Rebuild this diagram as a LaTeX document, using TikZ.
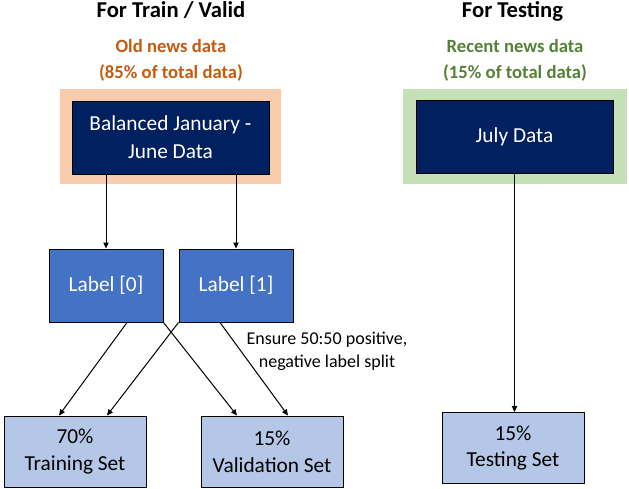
\documentclass[tikz,border=0pt]{standalone}
\usepackage{fontspec}
\setmainfont{Carlito}
\usetikzlibrary{
	calc,
	arrows.meta,
	positioning
}

\definecolor{navy}{HTML}{002060}
\definecolor{midblue}{HTML}{4472C4}
\definecolor{paleblue}{HTML}{B4C7E7}
\definecolor{oldfill}{HTML}{F8CBAD}
\definecolor{newfill}{HTML}{C5E0B4}
\definecolor{oldtext}{HTML}{C55A11}
\definecolor{newtext}{HTML}{548235}

\begin{document}
\begin{tikzpicture}[x=0.75pt,y=-0.75pt,->,>={Triangle[length=4.5pt,width=4pt]},
        line width=0.75pt,
        back node/.style={inner sep=0pt,minimum height=71.25pt},
        dark node/.style={draw=black,fill=navy,text=white,align=center,
          minimum width=147.75pt,minimum height=54.75pt,
          font=\fontsize{16}{21}\selectfont},
        label node/.style={draw=black,fill=midblue,text=white,
          minimum width=85.5pt,minimum height=54.75pt,
          font=\fontsize{16}{20}\selectfont},
        set node/.style={draw=black,fill=paleblue,align=center,
          minimum width=106.5pt,minimum height=53.25pt,
          font=\fontsize{16}{20}\selectfont},
        head/.style={anchor=base,font=\fontsize{17}{20}\selectfont\bfseries},
        sub/.style={anchor=base,align=center,font=\fontsize{14}{19}\selectfont\bfseries},
        note/.style={anchor=base,align=center,font=\fontsize{13.5}{17}\selectfont}]
        \useasboundingbox (0,0) rectangle (629,489);

        % source data
        \node[back node,fill=oldfill,minimum width=165.75pt] (oldbg) at (170.5,136.5) {};
        \node[dark node] (bal) at (170.5,137.5) {Balanced January -\\June Data};
        \node[back node,fill=newfill,minimum width=168pt] (newbg) at (515,136.5) {};
        \node[dark node] (july) at (514.5,137) {July Data};

        \node[head] (trhead) at (171,17) {For Train / Valid};
        \node[head] (tshead) at (512.5,17) {For Testing};
        \node[sub,text=oldtext] (oldsub) at (171,78) {Old news data\\(85\% of total data)};
        \node[sub,text=newtext] (newsub) at (515,78) {Recent news data\\(15\% of total data)};

        % labels and splits
        \node[label node] (lab0) at (106,285.5) {Label [0]};
        \node[label node] (lab1) [right=11.25pt of lab0] {Label [1]};
        \node[set node] (train) at (75,451.5) {70\%\\Training Set};
        \node[set node] (valid) [right=40.5pt of train] {15\%\\Validation Set};
        \node[set node] (test) at (513,448) {15\%\\Testing Set};
        \node[note] (split) at (327,367) {Ensure 50:50 positive,\\negative label split};

          \draw (lab0.north |- bal.south) -- (lab0.north);
          \draw (lab1.north |- bal.south) -- (lab1.north);
          \draw (july.south) -- (july.south |- test.north);

          \draw ($(lab0.south)+(21,0)$) -- ($(train.north)+(-16,0)$);
          \draw (lab0.south east) -- ($(valid.north)+(-35,0)$);
          \draw (lab1.south west) -- ($(train.north)+(32,0)$);
          \draw ($(lab1.south)+(-16,0)$) -- ($(valid.north)+(16,0)$);

      \end{tikzpicture}
\end{document}
